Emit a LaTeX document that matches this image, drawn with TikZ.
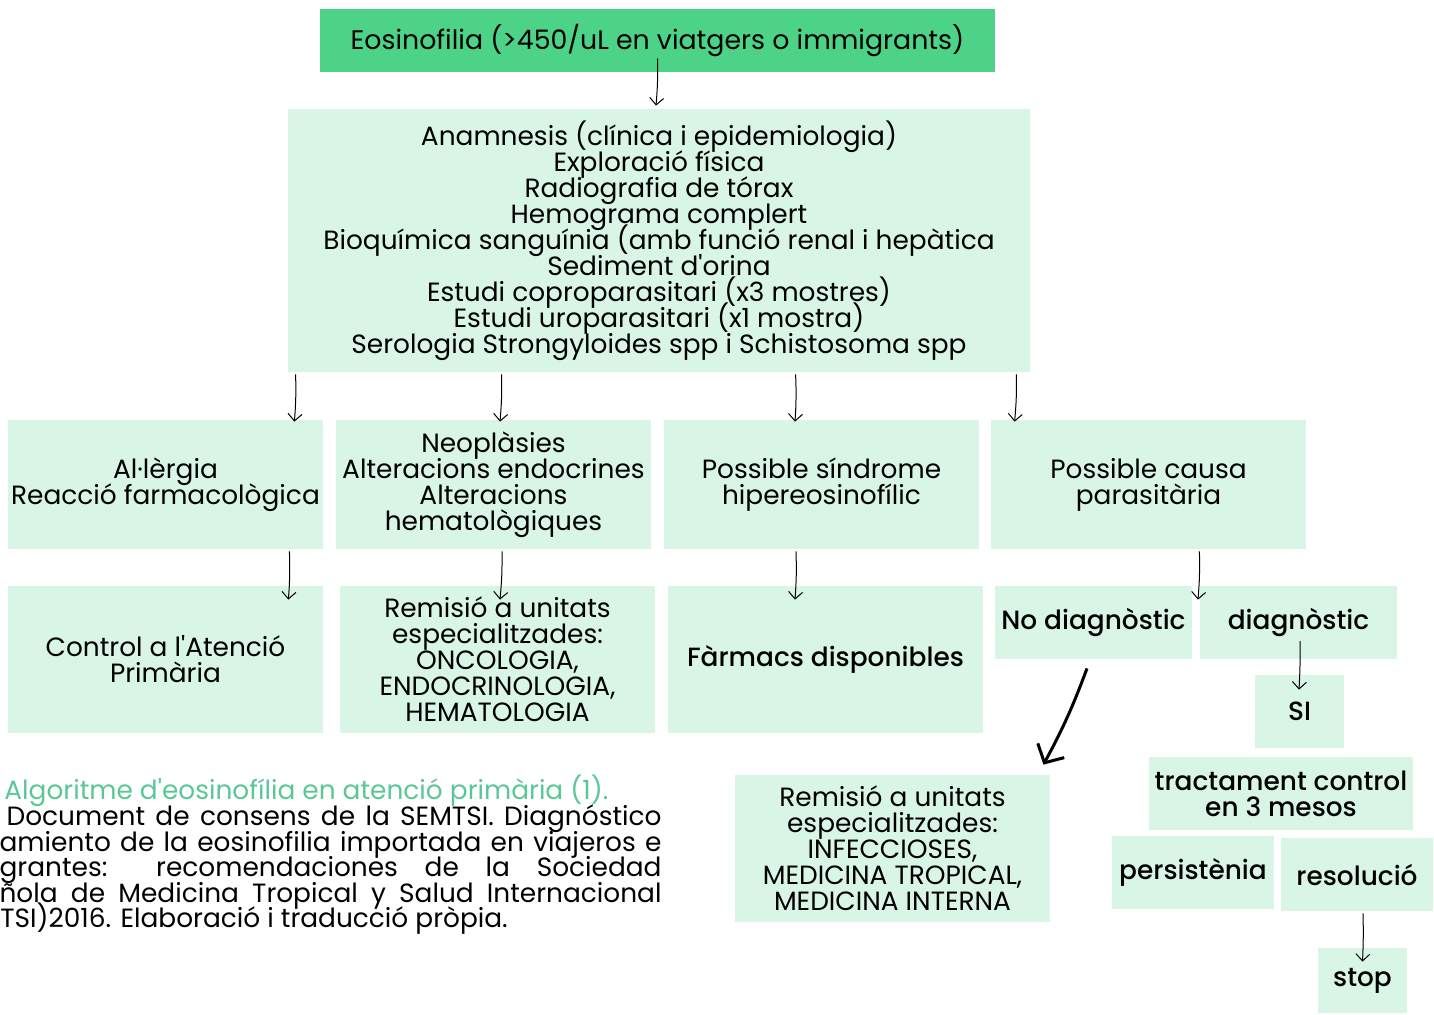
\documentclass[tikz,border=0pt]{standalone}
\usepackage{fontspec}
\setmainfont{Poppins}
\newfontfamily\medfont{Poppins}[UprightFont={* Medium}]
\usetikzlibrary{arrows.meta,calc}
\definecolor{topg}{RGB}{76,211,136}
\definecolor{boxg}{RGB}{217,245,230}
\definecolor{capg}{RGB}{90,200,150}
\newcommand{\fs}{\fontsize{13.2}{13}\selectfont\lineskiplimit=-20pt\lineskip=0pt}
\newcommand{\q}{\textquotesingle}
\begin{document}
\begin{tikzpicture}[x=0.5pt,y=-0.5pt,
  bx/.style={fill=boxg, inner sep=0pt, align=center, font=\fs},
  md/.style={font=\fs\medfont},
  wide/.style={minimum width=157.5pt, minimum height=64.5pt},
  tall/.style={minimum width=157.5pt, minimum height=73.5pt},
  arr/.style={draw=black, line width=0.5pt, -{Straight Barb[length=3.5pt,width=7pt]}},
  thickarr/.style={draw=black, line width=1.5pt, -{Straight Barb[length=7pt,width=15pt]}},
  captxt/.style={inner sep=0pt, font=\fs}
]
\useasboundingbox (0,0) rectangle (1434,1014);

\node[bx, fill=topg, minimum width=337.5pt, minimum height=31.5pt, font=\fontsize{13.4}{14}\selectfont] (top) at (657.5,40.5) {Eosinofilia (>450/uL en viatgers o immigrants)};

\node[bx, minimum width=371pt, minimum height=131.5pt] (big) at (659,240.5) {Anamnesis (clínica i epidemiologia)\\ Exploració física\\ Radiografia de tórax\\ Hemograma complert\\ Bioquímica sanguínia (amb funció renal i hepàtica\\ Sediment d\q orina\\ Estudi coproparasitari (x3 mostres)\\ Estudi uroparasitari (x1 mostra)\\ Serologia Strongyloides spp i Schistosoma spp};

\node[bx, wide] (A) at (165.5,484.5) {Al·lèrgia\\ Reacció farmacològica};
\node[bx, wide] (B) at (493.5,484.5) {Neoplàsies\\ Alteracions endocrines\\ Alteracions\\ hematològiques};
\node[bx, wide] (C) at (821.5,484.5) {Possible síndrome\\ hipereosinofílic};
\node[bx, wide] (D) at (1148.5,484.5) {Possible causa\\ parasitària};

\node[bx, tall] (E) at (165.5,659.5) {Control a l\q Atenció\\ Primària};
\node[bx, tall] (F) at (497.5,659.5) {Remisió a unitats\\ especialitzades:\\ ONCOLOGIA,\\ ENDOCRINOLOGIA,\\ HEMATOLOGIA};
\node[bx, md, tall] (G) at (825.5,659.5) {Fàrmacs disponibles};

\node[bx, md, minimum width=98.5pt, minimum height=36.5pt] (ND) at (1093.5,622.5) {No diagnòstic};
\node[bx, md, minimum width=98.5pt, minimum height=36.5pt] (DG) at (1298.5,622.5) {diagnòstic};
\node[bx, md, minimum width=44.5pt, minimum height=36.5pt] (SI) at (1299.5,711.5) {SI};
\node[bx, md, minimum width=132pt, minimum height=36.5pt] (TR) at (1281,793.5) {tractament control\\ en 3 mesos};
\node[bx, md, minimum width=81pt, minimum height=36.5pt] (PE) at (1193,872.5) {persistènia};
\node[bx, md, minimum width=76pt, minimum height=36.5pt] (RE) at (1357,874.5) {resolució};
\node[bx, md, minimum width=44.5pt, minimum height=32.5pt] (ST) at (1362.5,980.5) {stop};
\node[bx, tall] (RI) at (892.5,848.5) {Remisió a unitats\\ especialitzades:\\ INFECCIOSES,\\ MEDICINA TROPICAL,\\ MEDICINA INTERNA};

% caption
\node[captxt, anchor=base west, text=capg] (cap) at (4,799) {Algoritme d\q eosinofília en atenció primària (1).};
\node[captxt, anchor=base east] (c1) at (662,825) {\makebox[327.5pt][s]{Document de consens de la SEMTSI. Diagnóstico}};
\node[captxt, anchor=base east] (c2) at (662,851) {\makebox[331pt][s]{amiento de la eosinofilia importada en viajeros e}};
\node[captxt, anchor=base east] (c3) at (662,876) {\makebox[331pt][s]{grantes: recomendaciones de la Sociedad}};
\node[captxt, anchor=base east] (c4) at (662,902) {\makebox[331pt][s]{ñola de Medicina Tropical y Salud Internacional}};
\node[captxt, anchor=base west] (c5) at (0,927) {TSI)2016. Elaboració i traducció pròpia.};

% arrows
\draw[arr] ($(top.south)+(0,-14)$) to[bend left=3] ($(big.north)+(-3,-3)$);
\draw[arr] ($(big.south west)+(8,2)$) to[bend left=3] ($(A.north east)+(-29,2)$);
\draw[arr] ($(big.south west)+(214,2)$) to[bend left=3] ($(B.north)+(6.5,2)$);
\draw[arr] ($(big.south west)+(508,2)$) to[bend left=3] ($(C.north)+(-26.5,2)$);
\draw[arr] ($(big.south east)+(-14,2)$) to[bend left=3] ($(D.north west)+(24,2)$);
\draw[arr] ($(A.south east)+(-34,2)$) to[bend left=3] ($(E.north east)+(-35,14)$);
\draw[arr] ($(B.south)+(8.5,2)$) to[bend left=3] ($(F.north)+(2.5,14)$);
\draw[arr] ($(C.south)+(-25.5,2)$) to[bend left=3] ($(G.north)+(-30.5,14)$);
\coordinate (split) at ($(ND.north east)!0.5!(DG.north west)+(2,14)$);
\draw[arr] ($(D.south east)+(-107,2)$) to[bend left=3] (split);
\draw[arr] ($(DG.center)+(1.5,18.5)$) to[bend left=2] ($(SI.north)+(-0.5,15)$);
\draw[arr] ($(RE.south)+(6,2)$) to[bend left=2] ($(ST.north)+(0,14)$);
\draw[thickarr] ($(ND.south)+(-6.5,9)$) to[bend left=4] ($(RI.north east)+(-7,-10)$);
\end{tikzpicture}
\end{document}
